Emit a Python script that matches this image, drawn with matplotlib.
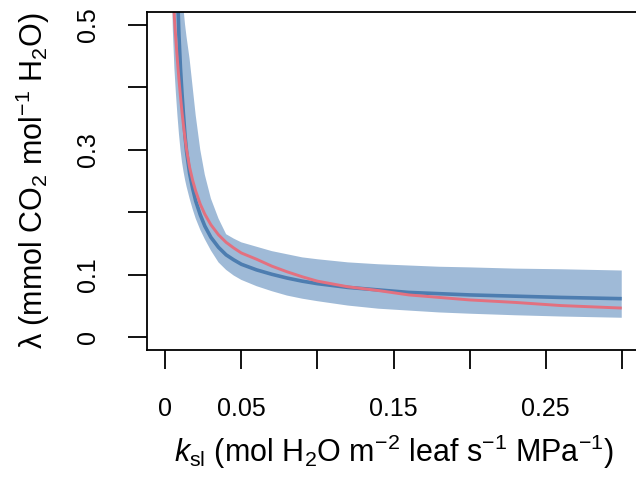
import numpy as np
import matplotlib
matplotlib.use("Agg")
import matplotlib.pyplot as plt

plt.rcParams['font.family'] = ['Liberation Sans', 'DejaVu Sans']
plt.rcParams['mathtext.fontset'] = 'custom'
plt.rcParams['mathtext.rm'] = 'Liberation Sans'
plt.rcParams['mathtext.it'] = 'Liberation Sans:italic'
plt.rcParams['mathtext.bf'] = 'Liberation Sans:bold'

# leaf-specific conductance (x) and lambda estimates
ksl = [0.004, 0.005, 0.006, 0.007, 0.008, 0.009, 0.010, 0.011, 0.012, 0.013,
       0.014, 0.016, 0.018, 0.020, 0.023, 0.026, 0.030, 0.035, 0.040, 0.045,
       0.050, 0.060, 0.070, 0.080, 0.090, 0.100, 0.120, 0.140, 0.160, 0.180,
       0.200, 0.230, 0.260, 0.300]
lam_mean = [1.62, 1.08, 0.815, 0.66, 0.556, 0.483, 0.43, 0.39, 0.355, 0.322,
            0.297, 0.262, 0.238, 0.218, 0.196, 0.178, 0.160, 0.144, 0.132, 0.124,
            0.117, 0.108, 0.101, 0.095, 0.090, 0.086, 0.080, 0.076, 0.072, 0.070,
            0.068, 0.066, 0.064, 0.062]
lam_model = [0.62, 0.57, 0.51, 0.475, 0.442, 0.412, 0.385, 0.36, 0.338, 0.318,
             0.30, 0.272, 0.251, 0.234, 0.213, 0.197, 0.180, 0.164, 0.152, 0.143,
             0.135, 0.125, 0.114, 0.105, 0.097, 0.090, 0.081, 0.075, 0.068, 0.064,
             0.060, 0.056, 0.051, 0.047]
lam_upper = [2.0, 1.6, 1.3, 1.05, 0.88, 0.76, 0.66, 0.585, 0.525, 0.50,
             0.48, 0.445, 0.40, 0.355, 0.30, 0.26, 0.222, 0.19, 0.165, 0.158,
             0.152, 0.145, 0.138, 0.133, 0.128, 0.125, 0.120, 0.117, 0.115, 0.113,
             0.112, 0.110, 0.109, 0.107]
lam_lower = [0.60, 0.49, 0.43, 0.39, 0.355, 0.325, 0.30, 0.28, 0.265, 0.252,
             0.241, 0.222, 0.205, 0.19, 0.172, 0.157, 0.139, 0.12, 0.108, 0.099,
             0.092, 0.082, 0.074, 0.067, 0.062, 0.058, 0.051, 0.046, 0.043, 0.040,
             0.038, 0.0355, 0.0335, 0.0315]

x_ticks = [0, 0.05, 0.10, 0.15, 0.20, 0.25, 0.30]
x_labels = ['0', '0.05', '', '0.15', '', '0.25', '']
y_ticks = [0, 0.1, 0.2, 0.3, 0.4, 0.5]
y_labels = ['0', '0.1', '', '0.3', '', '0.5']

fig = plt.figure(figsize=(6.36, 4.83), dpi=100)
ax = fig.add_axes([147/636, 1-350/483, 493/636, 338/483])

ax.fill_between(ksl, lam_lower, lam_upper, color='#9fbad7', lw=0)
ax.plot(ksl, lam_mean, color='#4d7db0', lw=2.6, solid_capstyle='butt')
ax.plot(ksl, lam_model, color='#e3707f', lw=2.1, solid_capstyle='butt')

ax.set_xlim(-0.012, 0.312)
ax.set_ylim(-0.02, 0.52)

for s in ax.spines.values():
    s.set_linewidth(1.3)

ax.set_xticks(x_ticks)
ax.set_xticklabels(x_labels, fontsize=18)
ax.set_yticks(y_ticks)
ax.set_yticklabels(y_labels, fontsize=18, rotation=90, va='center')
ax.tick_params(axis='x', length=14, width=1.3, pad=20)
ax.tick_params(axis='y', length=14, width=1.3, pad=20)

ax.set_xlabel(r'$k_{\mathrm{sl}}\ (\mathrm{mol\ H_2O\ m^{-2}\ leaf\ s^{-1}\ MPa^{-1}})$',
              fontsize=22, va='center')
ax.xaxis.set_label_coords(0.5, -0.302)
ax.set_ylabel(r'$\mathrm{\lambda}\ (\mathrm{mmol\ CO_2\ mol^{-1}\ H_2O})$',
              fontsize=22, va='center')
ax.yaxis.set_label_coords(-0.231, 0.5)

fig.savefig('out.png', dpi=100)
